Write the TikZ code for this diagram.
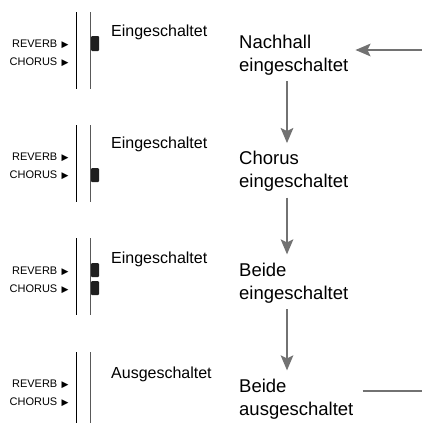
\documentclass[tikz,border=0pt]{standalone}
\usepackage{fontspec}
\setmainfont{Liberation Sans}
\newfontfamily\symfont{DejaVu Sans}
\usetikzlibrary{arrows.meta}
\definecolor{flowgray}{HTML}{727272}
\begin{document}
\begin{tikzpicture}[x=1pt,y=-1pt,
  ledlabel/.style={font=\fontsize{11}{12}\selectfont, anchor=base east, inner sep=0pt},
  ledtri/.style={font=\symfont\fontsize{9}{10}\selectfont, anchor=base west, inner sep=0pt},
  state/.style={font=\fontsize{16}{19}\selectfont, anchor=base west, inner sep=0pt},
  mode/.style={font=\fontsize{18.5}{23}\selectfont, anchor=base west, inner sep=0pt, align=left},
  thickline/.style={line width=1.2pt, black},
  thinline/.style={line width=0.6pt, black!65},
  lamp/.style={fill=black!88, draw=none, rounded corners=1pt},
  flow/.style={line width=2.4pt, draw=flowgray, -{Stealth[length=15pt,width=12.5pt,inset=3pt]}},
  flowline/.style={line width=2.4pt, draw=flowgray}
]
\useasboundingbox (0,0) rectangle (422,423);
\begin{scope}
\clip (0,0) rectangle (422,423);
% panel lines
\foreach \t in {12,125,238,352}{
  \draw[thickline] (76.5,\t) -- (76.5,\t+77);
  \draw[thinline] (90,\t) -- (90,\t+77);
}
\end{scope}
% small labels
\foreach \r/\c [count=\i] in {47.5/65.5,160.5/178.5,274.5/292.5,387/405}{
  \node[ledlabel] (rv\i) at (57.5,\r) {REVERB};
  \node[ledtri] (rt\i) at (61.5,\r) {▶};
  \node[ledlabel] (ch\i) at (57.5,\c) {CHORUS};
  \node[ledtri] (ct\i) at (61.5,\c) {▶};
}
% lamps
\fill[lamp] (91,36) rectangle (99,51);
\fill[lamp] (91,168) rectangle (99,182);
\fill[lamp] (91,263) rectangle (99,277);
\fill[lamp] (91,281) rectangle (99,295);
% state texts
\node[state] (s1) at (111,36) {Eingeschaltet};
\node[state] (s2) at (111,148) {Eingeschaltet};
\node[state] (s3) at (111,263) {Eingeschaltet};
\node[state] (s4) at (111,378) {Ausgeschaltet};
% mode texts (anchor at baseline of the last line)
\node[mode] (m1) at (239,71) {Nachhall\\eingeschaltet};
\node[mode] (m2) at (239,187.7) {Chorus\\eingeschaltet};
\node[mode] (m3) at (239,299) {Beide\\eingeschaltet};
\node[mode] (m4) at (239,415) {Beide\\ausgeschaltet};
% connectors
\coordinate (ax) at (287,0);
\coordinate (rtop) at (422,50);
\coordinate (rbot) at (422,391);
\draw[flow, shorten <=6pt, shorten >=8pt] (m1.south -| ax) -- (m2.north -| ax);
\draw[flow, shorten <=6pt, shorten >=8pt] (m2.south -| ax) -- (m3.north -| ax);
\draw[flow, shorten <=6pt, shorten >=8pt] (m3.south -| ax) -- (m4.north -| ax);
\draw[flow, shorten >=7pt] (rtop) -- (m1.east |- rtop);
\draw[flowline, shorten <=9pt] (m4.east |- rbot) -- (rbot);
\end{tikzpicture}
\end{document}
